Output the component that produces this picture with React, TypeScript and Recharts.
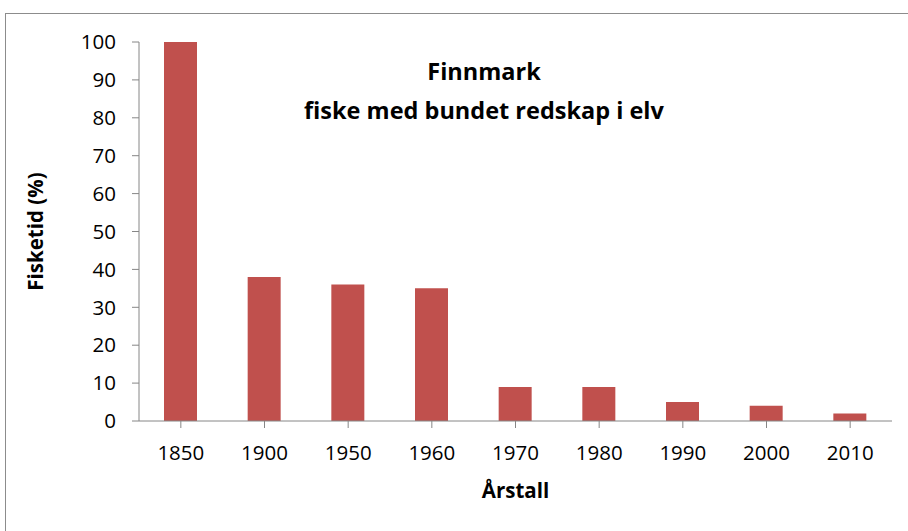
import { BarChart, Bar, XAxis, YAxis } from "recharts";

const years = ["1850", "1900", "1950", "1960", "1970", "1980", "1990", "2000", "2010"];
const fishingTime = [100, 38, 36, 35, 9, 9, 5, 4, 2];
const yTicks = [0, 10, 20, 30, 40, 50, 60, 70, 80, 90, 100];

const data = years.map((year, i) => ({ year, value: fishingTime[i] }));

const font = "'Open Sans', 'Liberation Sans', sans-serif";
const axisGrey = "#868686";

export default function App() {
  return (
    <div style={{ position: "absolute", left: 0, top: 0, width: 908, height: 531, background: "#fff", overflow: "hidden", fontFamily: font }}>
      <div
        style={{
          position: "absolute",
          left: 5,
          top: 13,
          width: 920,
          height: 540,
          border: "1px solid #8c8c8c",
        }}
      />
      <div style={{ position: "absolute", left: 284, width: 400, top: 52, textAlign: "center", fontWeight: 700, fontSize: 23.5, lineHeight: "39px" }}>
        Finnmark
        <br />
        fiske med bundet redskap i elv
      </div>
      <BarChart
        width={908}
        height={531}
        data={data}
        margin={{ top: 42, right: 16, bottom: 30, left: 0 }}
        style={{ position: "absolute", left: 0, top: 0 }}
      >
        <XAxis
          dataKey="year"
          height={80}
          stroke={axisGrey}
          tickSize={7}
          tickLine={{ stroke: axisGrey }}
          tick={{ fill: "#000", fontSize: 20.5, fontFamily: font }}
          tickMargin={17}
          interval={0}
          label={{ value: "Årstall", position: "insideBottom", offset: 3, style: { fill: "#000", fontWeight: 700, fontSize: 20.5, fontFamily: font } }}
        />
        <YAxis
          width={139}
          domain={[0, 100]}
          ticks={yTicks}
          interval={0}
          stroke={axisGrey}
          tickSize={7}
          tickLine={{ stroke: axisGrey }}
          tick={{ fill: "#000", fontSize: 20.5, fontFamily: font }}
          tickMargin={16}
          label={{
            value: "Fisketid (%)",
            angle: -90,
            position: "insideLeft",
            offset: 36,
            style: { textAnchor: "middle", fill: "#000", fontWeight: 700, fontSize: 20.5, fontFamily: font },
          }}
        />
        <Bar dataKey="value" fill="#c0504d" barSize={33} isAnimationActive={false} />
      </BarChart>
    </div>
  );
}
